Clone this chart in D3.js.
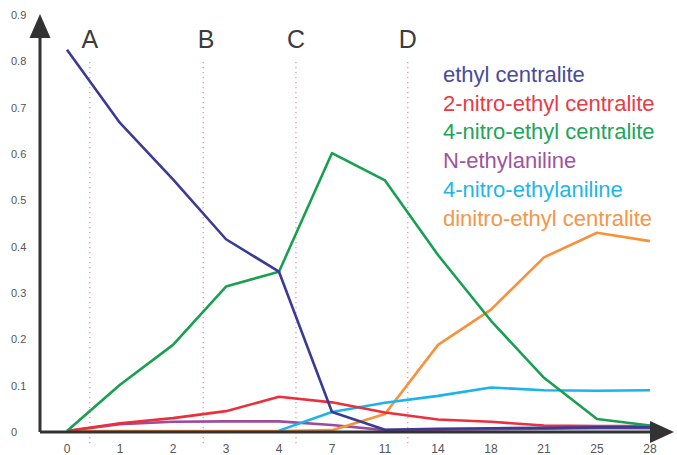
<!DOCTYPE html>
<html>
<head>
<meta charset="utf-8">
<script src="https://cdn.jsdelivr.net/npm/d3@7"></script>
<style>
    body { margin : 0; background : #fff; }
    svg { display : block; font-family : "Liberation Sans", Arial, sans-serif; }
</style>
</head>
<body>
<svg id="chart" width="677" height="455"></svg>
<script>

    var days = ['0', '1', '2', '3', '4', '7', '11', '14', '18', '21', '25', '28'];
    var yTicks = [0, 0.1, 0.2, 0.3, 0.4, 0.5, 0.6, 0.7, 0.8, 0.9];

    var ethylCentralite      = [0.825, 0.667, 0.545, 0.416, 0.346, 0.043, 0.005, 0.007, 0.008, 0.009, 0.010, 0.010];
    var nitroEthylCentralite2 = [0.002, 0.019, 0.030, 0.045, 0.076, 0.064, 0.042, 0.027, 0.022, 0.014, 0.013, 0.013];
    var nitroEthylCentralite4 = [0.002, 0.102, 0.188, 0.314, 0.346, 0.602, 0.543, 0.382, 0.240, 0.117, 0.028, 0.014];
    var nEthylaniline        = [0.002, 0.017, 0.022, 0.023, 0.023, 0.015, 0.004, 0.005, 0.006, 0.007, 0.008, 0.008];
    var nitroEthylaniline4   = [null, null, null, null, 0.003, 0.043, 0.063, 0.078, 0.096, 0.090, 0.089, 0.090];
    var dinitroEthylCentralite = [0.002, 0.002, 0.002, 0.002, 0.002, 0.004, 0.039, 0.188, 0.264, 0.377, 0.430, 0.412];

    // phase boundaries, as fractional position along the day categories
    var phaseLabels = ['A', 'B', 'C', 'D'];
    var phaseAt = [0.43, 2.57, 4.32, 6.43];

    var series = [
        {name : 'N-ethylaniline',            color : '#9d4b9c', values : nEthylaniline},
        {name : 'dinitro-ethyl centralite',  color : '#f7923a', values : dinitroEthylCentralite},
        {name : '4-nitro-ethylaniline',      color : '#1bb3ea', values : nitroEthylaniline4},
        {name : '2-nitro-ethyl centralite',  color : '#ec2f3c', values : nitroEthylCentralite2},
        {name : '4-nitro-ethyl centralite',  color : '#18a050', values : nitroEthylCentralite4},
        {name : 'ethyl centralite',          color : '#3b3b97', values : ethylCentralite},
    ];

    var legendOrder = [
        {name : 'ethyl centralite',          color : '#4a4a9c'},
        {name : '2-nitro-ethyl centralite',  color : '#ea3a45'},
        {name : '4-nitro-ethyl centralite',  color : '#22a45a'},
        {name : 'N-ethylaniline',            color : '#a0539f'},
        {name : '4-nitro-ethylaniline',      color : '#22b5ea'},
        {name : 'dinitro-ethyl centralite',  color : '#f6964a'},
    ];

    var svg = d3.select('#chart');

    var x = d3.scalePoint().domain(days).range([67, 650]);
    var xIdx = d3.scaleLinear().domain([0, days.length - 1]).range([67, 650]);
    var y = d3.scaleLinear().domain([0, 0.9]).range([432, 15]);

    //phase dividers
    svg.append('g')
        .selectAll('line')
        .data(phaseAt)
        .enter().append('line')
            .attr('x1', function (d) { return xIdx(d) })
            .attr('x2', function (d) { return xIdx(d) })
            .attr('y1', 62)
            .attr('y2', 446)
            .attr('stroke', '#ec8fae')
            .attr('stroke-width', 1.3)
            .attr('stroke-dasharray', '1.3,3.7')
    ;

    svg.append('g')
        .selectAll('text')
        .data(phaseLabels)
        .enter().append('text')
            .attr('x', function (d, i) { return xIdx(phaseAt[i]) + (d == 'B' ? 3 : 0) })
            .attr('y', 48)
            .attr('text-anchor', 'middle')
            .attr('font-size', 25)
            .attr('fill', '#3c3c3c')
            .text(function (d) { return d })
    ;

    // y tick labels (no tick marks in the original)
    svg.append('g')
        .selectAll('text')
        .data(yTicks)
        .enter().append('text')
            .attr('x', 11)
            .attr('y', function (d) { return y(d) + 4 })
            .attr('font-size', 11)
            .attr('fill', '#555')
            .text(function (d) { return d == 0 ? '0' : d3.format('.1f')(d) })
    ;

    svg.append('g')
        .selectAll('text')
        .data(days)
        .enter().append('text')
            .attr('x', function (d) { return x(d) })
            .attr('y', 453)
            .attr('text-anchor', 'middle')
            .attr('font-size', 12)
            .attr('fill', '#555')
            .text(function (d) { return d })
    ;

    var line = d3.line()
        .defined(function (d) { return d != null })
        .x(function (d, i) { return x(days[i]) })
        .y(function (d) { return y(d) });

    svg.append('g')
        .selectAll('path')
        .data(series)
        .enter().append('path')
            .attr('d', function (d) { return line(d.values) })
            .attr('fill', 'none')
            .attr('stroke', function (d) { return d.color })
            .attr('stroke-width', 2.6)
            .attr('stroke-linejoin', 'round')
    ;

    //axes with arrow heads, drawn on top
    var axisColor = '#333';
    svg.append('path')
        .attr('d', 'M40,' + y(0) + 'V34 M40,' + y(0) + 'H654')
        .attr('fill', 'none')
        .attr('stroke', axisColor)
        .attr('stroke-width', 3)
    ;
    svg.append('path')
        .attr('d', 'M40,14L29.5,38L50.5,38Z')
        .attr('fill', axisColor)
    ;
    svg.append('path')
        .attr('d', 'M674,' + y(0) + 'L650,' + (y(0) - 11) + 'L650,' + (y(0) + 11) + 'Z')
        .attr('fill', axisColor)
    ;

    svg.append('g')
        .selectAll('text')
        .data(legendOrder)
        .enter().append('text')
            .attr('x', 443)
            .attr('y', function (d, i) { return 82 + i * 28.7 })
            .attr('font-size', 22)
            .attr('fill', function (d) { return d.color })
            .text(function (d) { return d.name })
    ;

</script>
</body>
</html>
